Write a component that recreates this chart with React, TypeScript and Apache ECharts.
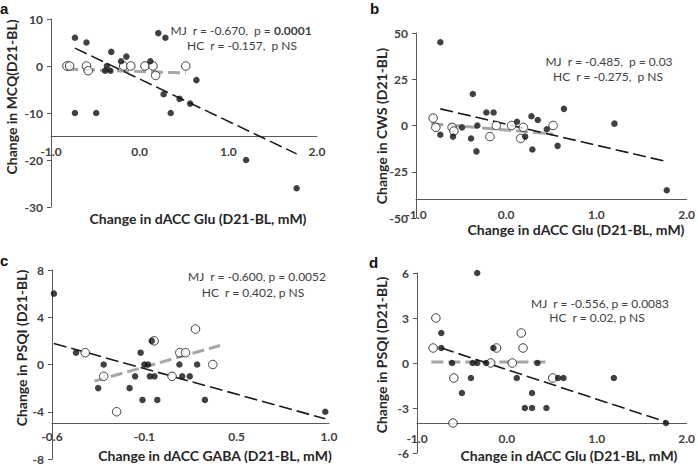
import React, { useEffect, useRef } from "react";
import * as echarts from "echarts";

// ---------- Panel a: MCQ vs dACC Glu ----------
const aMJ: [number, number][] = [
  [-0.73, 6], [-0.73, -10], [-0.6, 5], [-0.49, -10], [-0.39, -1], [-0.37, 0], [-0.33, -1], [-0.32, 3],
  [-0.21, 1], [-0.15, 2], [0.12, 1], [0.21, 7], [0.27, -6], [0.29, 6], [0.35, -10], [0.45, -7],
  [0.57, -8], [0.64, -3], [1.2, -20], [1.77, -26],
];
const aHC: [number, number][] = [
  [-0.82, 0], [-0.79, 0], [-0.6, 0], [-0.58, -1], [-0.18, 0], [-0.1, 0], [0.06, 0], [0.15, 0], [0.18, -2], [0.52, 0],
];
const aTrendMJ: [number, number][] = [[-0.73, 3.8], [1.77, -18.7]];
const aTrendHC: [number, number][] = [[-0.83, -0.65], [0.52, -1.5]];

// ---------- Panel b: CWS vs dACC Glu ----------
const bMJ: [number, number][] = [
  [-0.73, 45], [-0.73, -5], [-0.59, -6], [-0.49, -1], [-0.39, -7], [-0.37, 17], [-0.33, -14], [-0.32, 0],
  [-0.22, 7], [-0.14, 7], [0.12, 2], [0.21, -6], [0.28, 5], [0.29, -13], [0.35, 3], [0.45, -2],
  [0.57, -11], [0.64, 9], [1.2, 1], [1.78, -35],
];
const bHC: [number, number][] = [
  [-0.81, 4], [-0.78, -1], [-0.6, -1], [-0.58, -3], [-0.18, -6], [-0.11, 0], [0.06, 0], [0.16, -7], [0.19, -1], [0.52, 0],
];
const bTrendMJ: [number, number][] = [[-0.73, 9], [1.77, -19.4]];
const bTrendHC: [number, number][] = [[-0.83, 1], [0.52, -4.6]];

// ---------- Panel c: PSQI vs dACC GABA ----------
const cMJ: [number, number][] = [
  [-0.54, 6], [-0.42, 1], [-0.27, 0], [-0.3, -2], [-0.13, -2], [-0.1, -1], [-0.07, 1], [-0.06, -3],
  [-0.05, 0], [-0.03, 0], [-0.01, 2], [-0.02, -1], [0.005, -1], [0.02, -3], [0.14, 0], [0.155, -1],
  [0.196, -1], [0.236, 0], [0.278, -3], [0.93, -4],
];
const cHC: [number, number][] = [
  [-0.37, 1], [-0.27, -1], [-0.2, -4], [0.003, 2], [0.1, -1], [0.142, 1], [0.173, 1], [0.227, 3], [0.321, 0],
];
const cTrendMJ: [number, number][] = [[-0.54, 1.78], [0.93, -4.6]];
const cTrendHC: [number, number][] = [[-0.32, -1.41], [0.36, 1.61]];
const cXTickLabels = ["-0.6", "-0.1", "0.5", "1.0"];

// ---------- Panel d: PSQI vs dACC Glu ----------
const dMJ: [number, number][] = [
  [-0.33, 6], [-0.73, 2], [-0.73, 1], [-0.61, 0], [-0.5, -2], [-0.4, -1], [-0.38, 0], [-0.33, 0],
  [-0.23, 0], [-0.15, 1], [0.11, -1], [0.2, -3], [0.28, -3], [0.28, -2], [0.34, 0], [0.44, -3],
  [0.57, -1], [0.63, -1], [1.19, -1], [1.77, -4],
];
const dHC: [number, number][] = [
  [-0.79, 3], [-0.82, 1], [-0.59, -1], [-0.6, -4], [-0.18, 0], [-0.115, 1], [0.06, 0], [0.16, 2], [0.18, 1], [0.51, -1],
];
const dTrendMJ: [number, number][] = [[-0.73, 1.0], [1.77, -3.93]];
const dTrendHC: [number, number][] = [[-0.84, 0.07], [0.44, 0.07]];

const FONT = "Lato, 'Open Sans', sans-serif";
const LETTER_FONT = "'Liberation Sans', Arial, sans-serif";
const TXT = "#404040";
const AXIS = "#595959";

type Panel = {
  letter: string;
  mj: [number, number][];
  hc: [number, number][];
  tMJ: [number, number][];
  tHC: [number, number][];
  xMin: number; xMax: number; xInt: number;
  yMin: number; yMax: number; yInt: number;
  cross: number;
  xLabels?: string[];
  labelMargin: number;
  grid: { left: number; top: number; width: number; height: number };
  yTitle: string; yTitlePos: [number, number];
  xTitle: string; xTitlePos: [number, number];
  ann1: string; ann1Pos: [number, number];
  ann2: string; ann2Pos: [number, number];
  letterPos: [number, number];
};

const panels: Panel[] = [
  {
    letter: "a", mj: aMJ, hc: aHC, tMJ: aTrendMJ, tHC: aTrendHC,
    xMin: -1, xMax: 2, xInt: 1, yMin: -30, yMax: 10, yInt: 10, cross: -15, labelMargin: 9,
    grid: { left: 51, top: 19, width: 266, height: 188 },
    yTitle: "Change in MCQ(D21-BL)", yTitlePos: [11, 97],
    xTitle: "Change in dACC Glu (D21-BL, mM)", xTitlePos: [198, 218],
    ann1: "MJ  r = -0.670,  p = {b|0.0001}", ann1Pos: [241, 30],
    ann2: "HC  r = -0.157,  p NS", ann2Pos: [242, 45],
    letterPos: [0, 8.5],
  },
  {
    letter: "b", mj: bMJ, hc: bHC, tMJ: bTrendMJ, tHC: bTrendHC,
    xMin: -1, xMax: 2, xInt: 1, yMin: -50, yMax: 50, yInt: 25, cross: -40, labelMargin: 9,
    grid: { left: 416, top: 33, width: 274, height: 185 },
    yTitle: "Change in CWS (D21-BL)", yTitlePos: [381, 126],
    xTitle: "Change in dACC Glu (D21-BL, mM)", xTitlePos: [576, 229],
    ann1: "MJ  r = -0.485,  p = 0.03", ann1Pos: [609, 61],
    ann2: "HC  r = -0.275,  p NS", ann2Pos: [608, 76],
    letterPos: [370, 8.5],
  },
  {
    letter: "c", mj: cMJ, hc: cHC, tMJ: cTrendMJ, tHC: cTrendHC,
    xMin: -0.55, xMax: 0.95, xInt: 0.5, yMin: -8, yMax: 8, yInt: 4, cross: -5, labelMargin: 7,
    xLabels: cXTickLabels,
    grid: { left: 52, top: 270, width: 277, height: 189 },
    yTitle: "Change in PSQI (D21-BL)", yTitlePos: [21, 348],
    xTitle: "Change in dACC GABA (D21-BL, mM)", xTitlePos: [215, 455],
    ann1: "MJ  r = -0.600, p = 0.0052", ann1Pos: [257, 276],
    ann2: "HC  r = 0.402, p NS", ann2Pos: [253, 292],
    letterPos: [0, 260],
  },
  {
    letter: "d", mj: dMJ, hc: dHC, tMJ: dTrendMJ, tHC: dTrendHC,
    xMin: -1, xMax: 2, xInt: 1, yMin: -6, yMax: 6, yInt: 3, cross: -4, labelMargin: 9,
    grid: { left: 417, top: 273, width: 272, height: 180 },
    yTitle: "Change in PSQI (D21-BL)", yTitlePos: [381, 355],
    xTitle: "Change in dACC Glu (D21-BL, mM)", xTitlePos: [569, 455],
    ann1: "MJ  r = -0.556, p = 0.0083", ann1Pos: [600, 303],
    ann2: "HC  r = 0.02, p NS", ann2Pos: [597, 317],
    letterPos: [369, 262],
  },
];

function buildOption() {
  const grid: any[] = [];
  const xAxis: any[] = [];
  const yAxis: any[] = [];
  const series: any[] = [];
  const graphic: any[] = [];

  panels.forEach((p, i) => {
    grid.push({ ...p.grid, containLabel: false });
    // x axis crosses the y axis at p.cross: shift it up from the grid bottom
    const crossOffset = -p.grid.height * (p.cross - p.yMin) / (p.yMax - p.yMin);
    xAxis.push({
      gridIndex: i,
      type: "value",
      position: "bottom",
      offset: crossOffset,
      min: p.xMin,
      max: p.xMax,
      interval: p.xInt,
      axisLine: { show: true, onZero: false, lineStyle: { color: AXIS, width: 1 } },
      axisTick: { show: false },
      splitLine: { show: false },
      axisLabel: {
        color: TXT,
        fontFamily: FONT,
        fontWeight: "bold",
        fontSize: 12,
        margin: p.labelMargin,
        showMinLabel: true,
        showMaxLabel: true,
        formatter: p.xLabels
          ? (_v: number, idx: number) => p.xLabels![idx] ?? ""
          : (v: number) => v.toFixed(1),
      },
    });
    yAxis.push({
      gridIndex: i,
      type: "value",
      min: p.yMin,
      max: p.yMax,
      interval: p.yInt,
      axisLine: { show: true, onZero: false, lineStyle: { color: AXIS, width: 1 } },
      axisTick: { show: true, length: 4, lineStyle: { color: AXIS } },
      splitLine: { show: false },
      axisLabel: { color: TXT, fontFamily: FONT, fontWeight: "bold", fontSize: 12, margin: 8 },
    });

    series.push({
      type: "line", xAxisIndex: i, yAxisIndex: i, data: p.tHC, symbol: "none", silent: true, z: 1,
      lineStyle: { color: "#a6a6a6", width: 3, type: [12, 5] },
    });
    series.push({
      type: "line", xAxisIndex: i, yAxisIndex: i, data: p.tMJ, symbol: "none", silent: true, z: 2,
      lineStyle: { color: "#1a1a1a", width: 1.6, type: [13, 5] },
    });
    series.push({
      type: "scatter", xAxisIndex: i, yAxisIndex: i, data: p.hc, symbolSize: 8.5, z: 3,
      itemStyle: { color: "#ffffff", borderColor: "#111111", borderWidth: 1 },
    });
    series.push({
      type: "scatter", xAxisIndex: i, yAxisIndex: i, data: p.mj, symbolSize: 6.5, z: 4,
      itemStyle: { color: "#111111" },
    });

    graphic.push({
      type: "text", x: p.letterPos[0], y: p.letterPos[1],
      style: { text: p.letter, font: `bold 15px ${LETTER_FONT}`, fill: "#111", textAlign: "left", textVerticalAlign: "middle" },
    });
    graphic.push({
      type: "text", x: p.yTitlePos[0], y: p.yTitlePos[1], rotation: Math.PI / 2,
      style: { text: p.yTitle, font: `bold 14px ${FONT}`, fill: "#262626", textAlign: "center", textVerticalAlign: "middle" },
    });
    graphic.push({
      type: "text", x: p.xTitlePos[0], y: p.xTitlePos[1],
      style: { text: p.xTitle, font: `bold 14px ${FONT}`, fill: "#262626", textAlign: "center", textVerticalAlign: "middle" },
    });
    graphic.push({
      type: "text", x: p.ann1Pos[0], y: p.ann1Pos[1],
      style: {
        text: p.ann1, font: `12px ${FONT}`, fill: TXT, textAlign: "center", textVerticalAlign: "middle",
        rich: { b: { fontWeight: "bold", fontSize: 12, fontFamily: FONT, fill: TXT } },
      },
    });
    graphic.push({
      type: "text", x: p.ann2Pos[0], y: p.ann2Pos[1],
      style: { text: p.ann2, font: `12px ${FONT}`, fill: TXT, textAlign: "center", textVerticalAlign: "middle" },
    });
  });

  return {
    animation: false,
    backgroundColor: "#ffffff",
    grid,
    xAxis,
    yAxis,
    series,
    graphic,
  };
}

export default function App() {
  const ref = useRef<HTMLDivElement>(null);
  useEffect(() => {
    document.body.style.margin = "0";
    if (!ref.current) return;
    const chart = echarts.init(ref.current, undefined, { renderer: "svg" });
    chart.setOption(buildOption() as any);
    return () => chart.dispose();
  }, []);
  return <div ref={ref} style={{ position: "fixed", left: 0, top: 0, width: 698, height: 470 }} />;
}
